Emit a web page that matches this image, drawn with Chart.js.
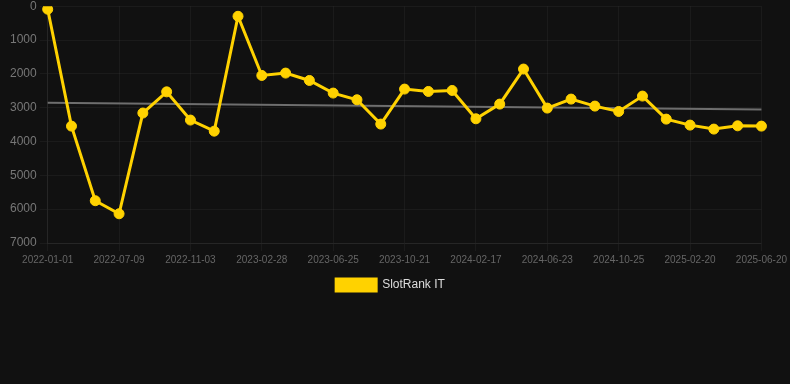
<!DOCTYPE html>
<html>
<head>
<meta charset="utf-8">
<script src="https://cdn.jsdelivr.net/npm/chart.js@4.4.1/dist/chart.umd.min.js"></script>
<style>
  html, body { margin: 0; padding: 0; background: #111111; overflow: hidden; }
  #wrap { position: relative; top: -4px; width: 790px; height: 305px; }
</style>
</head>
<body>
<div id="wrap"><canvas id="c"></canvas></div>
<script>
const dates = [
  "2022-01-01","2022-03-12","2022-05-10","2022-07-09","2022-08-17","2022-09-25",
  "2022-11-03","2022-12-12","2023-01-20","2023-02-28","2023-04-08","2023-05-17",
  "2023-06-25","2023-08-03","2023-09-11","2023-10-21","2023-11-29","2024-01-08",
  "2024-02-17","2024-03-29","2024-05-12","2024-06-23","2024-08-03","2024-09-14",
  "2024-10-25","2024-12-03","2025-01-11","2025-02-20","2025-03-31","2025-05-10",
  "2025-06-20"
];
const rankIT = [
  90, 3545, 5750, 6136, 3158, 2532, 3366, 3694, 298, 2047, 1977, 2195,
  2568, 2766, 3485, 2450, 2520, 2491, 3328, 2894, 1858, 3012, 2746, 2953,
  3112, 2657, 3338, 3515, 3633, 3536, 3545
];
const trendStart = 2855;
const trendEnd = 3053;
const yTicks = [0, 1000, 2000, 3000, 4000, 5000, 6000, 7000];

const trendData = [
  { x: dates[0], y: trendStart },
  { x: dates[dates.length - 1], y: trendEnd }
];

new Chart(document.getElementById('c'), {
  type: 'line',
  data: {
    labels: dates,
    datasets: [
      {
        label: 'SlotRank IT',
        data: rankIT,
        borderColor: '#FFD200',
        backgroundColor: '#FFD200',
        borderWidth: 3,
        pointRadius: 5,
        pointHoverRadius: 5,
        pointBackgroundColor: '#FFD200',
        pointBorderColor: '#FFD200',
        pointBorderWidth: 1,
        tension: 0,
        order: 1
      },
      {
        label: 'trend',
        data: trendData,
        borderColor: '#6e6e6e',
        backgroundColor: '#6e6e6e',
        borderWidth: 2,
        pointRadius: 0,
        tension: 0,
        order: 2
      }
    ]
  },
  options: {
    responsive: true,
    maintainAspectRatio: false,
    animation: false,
    layout: { padding: { left: 7, right: 16, top: 0, bottom: 0 } },
    scales: {
      x: {
        type: 'category',
        offset: false,
        grid: { color: 'rgba(255,255,255,0.045)', tickColor: 'rgba(255,255,255,0.045)' },
        border: { color: 'rgba(255,255,255,0.05)' },
        ticks: {
          autoSkip: false,
          maxRotation: 0,
          minRotation: 0,
          color: '#666666',
          font: { family: 'Liberation Sans, Arial, sans-serif', size: 10 },
          callback: function (v, i) { return i % 3 === 0 ? dates[i] : null; }
        }
      },
      y: {
        reverse: true,
        min: 0,
        max: 7000,
        afterBuildTicks: function (scale) { scale.ticks = yTicks.map(v => ({ value: v })); },
        grid: { color: 'rgba(255,255,255,0.045)', tickColor: 'rgba(255,255,255,0.045)' },
        border: { color: 'rgba(255,255,255,0.05)' },
        ticks: {
          color: '#777777',
          font: { family: 'Liberation Sans, Arial, sans-serif', size: 12 },
          callback: function (v) { return String(v); }
        }
      }
    },
    plugins: {
      legend: {
        position: 'bottom',
        labels: {
          color: '#dddddd',
          boxWidth: 40,
          font: { family: 'Liberation Sans, Arial, sans-serif', size: 12 },
          filter: function (item) { return item.text !== 'trend'; }
        }
      },
      tooltip: { enabled: false }
    }
  }
});
</script>
</body>
</html>
